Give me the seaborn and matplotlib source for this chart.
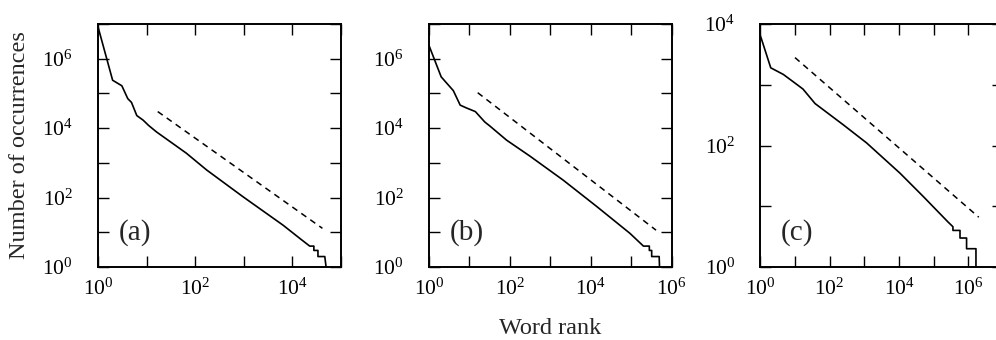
"""Rank-frequency plots (Zipf) for three corpora, log-log panels."""

import math
import matplotlib
matplotlib.use('Agg')
import matplotlib.pyplot as plt
import matplotlib.ticker as mticker
import seaborn as sns

# Panel (a)
rank_a = [1, 2.0, 3.1, 4.1, 4.9, 6.3, 8.5, 11, 16, 66, 174, 977, 6500, 14500,
          23000, 28000, 28000, 34000, 34000, 47000, 50000]
count_a = [8.3e6, 2.4e5, 1.66e5, 7.1e4, 5.5e4, 2.3e4, 1.7e4, 1.2e4, 7.8e3, 1.9e3,
           620, 105, 16, 6.6, 4, 4, 3, 3, 2, 2, 1]
dash_x_a = [17, 42000]
dash_y_a = [3.0e4, 13]

# Panel (b)
rank_b = [1, 2.0, 4.0, 5.9, 8.5, 14, 24, 32, 83, 316, 2090, 14100, 93000,
          2.0e5, 2.8e5, 2.8e5, 3.2e5, 3.2e5, 4.9e5, 5.0e5]
count_b = [2.4e6, 3.0e5, 1.2e5, 4.6e4, 3.8e4, 3.0e4, 1.5e4, 1.15e4, 4.5e3, 1.55e3,
           316, 55, 9.3, 4, 4, 3, 3, 2, 2, 1]
dash_x_b = [16, 4.1e5]
dash_y_b = [1.05e5, 11.5]

# Panel (c)
rank_c = [1, 2.0, 4.6, 8.9, 17, 38, 245, 1170, 10700, 50000, 1.5e5, 2.6e5,
          3.6e5, 3.6e5, 5.75e5, 5.75e5, 8.9e5, 8.9e5, 1.66e6, 1.66e6]
count_c = [6500, 1900, 1480, 1120, 850, 490, 220, 110, 35, 14.5, 7.6, 5.5,
           4.6, 4, 4, 3, 3, 2, 2, 1]
dash_x_c = [10, 2.0e6]
dash_y_c = [2800, 6.6]

panels = [
    ('(a)', rank_a, count_a, dash_x_a, dash_y_a, (1, 1e5), (1, 1e7)),
    ('(b)', rank_b, count_b, dash_x_b, dash_y_b, (1, 1e6), (1, 1e7)),
    ('(c)', rank_c, count_c, dash_x_c, dash_y_c, (1, 1e7), (1, 1e4)),
]

sns.set_theme(style='ticks')
plt.rcParams['font.family'] = ['Liberation Serif', 'DejaVu Serif']
plt.rcParams['mathtext.fontset'] = 'custom'
plt.rcParams['mathtext.rm'] = 'Liberation Serif'
plt.rcParams['mathtext.it'] = 'Liberation Serif:italic'

W, H = 996, 340
fig = plt.figure(figsize=(W / 100, H / 100), dpi=100)
lefts = [98, 429, 760.3]
ax_w = 242.7


def even_decades(val, pos):
    exp = int(round(math.log10(val)))
    return r'$\mathregular{10^{%d}}$' % exp if exp % 2 == 0 else ''


for left, (tag, rk, ct, dx, dy, xlim, ylim) in zip(lefts, panels):
    ax = fig.add_axes([left / W, (H - 267) / H, ax_w / W, 243 / H])
    sns.lineplot(x=rk, y=ct, ax=ax, sort=False, estimator=None,
                 color='black', linewidth=1.2)
    sns.lineplot(x=dx, y=dy, ax=ax, sort=False, estimator=None,
                 color='black', linewidth=1.1, dashes=False)
    ax.lines[-1].set_dashes((4, 3.2))
    ax.set_xscale('log')
    ax.set_yscale('log')
    ax.set_xlim(*xlim)
    ax.set_ylim(*ylim)
    for axis in (ax.xaxis, ax.yaxis):
        axis.set_major_locator(mticker.LogLocator(base=10, numticks=20))
        axis.set_minor_locator(mticker.NullLocator())
        axis.set_major_formatter(mticker.FuncFormatter(even_decades))
    ax.tick_params(which='both', direction='in', top=True, right=True,
                   length=8, width=1.0, labelsize=15.5, colors='black')
    ax.tick_params(axis='x', pad=8)
    ax.tick_params(axis='y', pad=18)
    for sp in ax.spines.values():
        sp.set_visible(True)
        sp.set_linewidth(1.4)
        sp.set_color('black')
    ax.set_xlabel('')
    ax.set_ylabel('')
    ax.text(0.085, 0.14, tag, transform=ax.transAxes, fontsize=21,
            ha='left', va='center')

fig.text(20 / W, 1 - 145 / H, 'Number of occurrences', rotation=90,
         ha='center', va='center', fontsize=17.5)
fig.text(550 / W, 1 - 329 / H, 'Word rank', ha='center', va='center',
         fontsize=17.5)

fig.savefig('out.png', dpi=100, facecolor='white')
